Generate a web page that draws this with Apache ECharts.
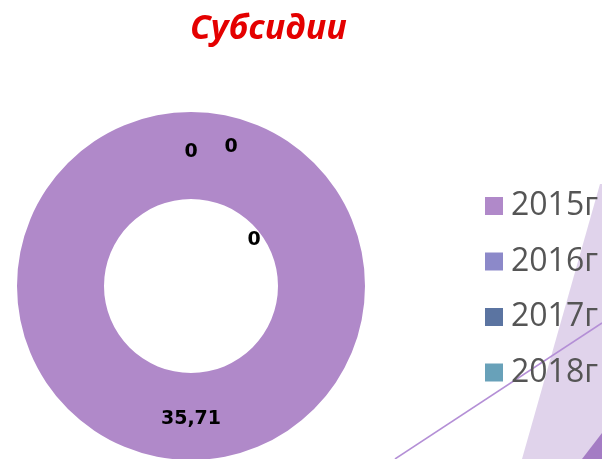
<!DOCTYPE html>
<html>
<head>
<meta charset="utf-8">
<script src="https://cdn.jsdelivr.net/npm/echarts@6/dist/echarts.min.js"></script>
<style>
  html, body { margin: 0; padding: 0; background: #fff; }
  #chart { width: 602px; height: 459px; }
</style>
</head>
<body>
<div id="chart"></div>
<script>
var years = ['2015г', '2016г', '2017г', '2018г'];
var values = [35.71, 0, 0, 0];
var colors = ['#B089C9', '#8C89C9', '#5B74A1', '#68A1B9'];
// label nudges for zero slices (they all sit at the start angle)
var labelOffsets = [[0, 0], [0, 0], [40, -5], [63, 88]];

var chart = echarts.init(document.getElementById('chart'));

var data = years.map(function (y, i) {
  return {
    name: y,
    value: values[i],
    label: { offset: labelOffsets[i] }
  };
});

chart.setOption({
  animation: false,
  title: {
    text: 'Субсидии',
    left: 185,
    top: 7,
    textStyle: {
      color: '#E40000',
      fontFamily: 'Open Sans',
      fontStyle: 'italic',
      fontWeight: 'bold',
      fontSize: 34
    }
  },
  legend: {
    orient: 'vertical',
    left: 480,
    top: 183,
    icon: 'rect',
    itemWidth: 18,
    itemHeight: 18,
    itemGap: 19.5,
    data: years,
    textStyle: {
      color: '#555555',
      fontFamily: 'Open Sans',
      fontSize: 32,
      lineHeight: 36,
      padding: [0, 0, 0, 3]
    }
  },
  graphic: [
    {
      type: 'polygon',
      z: 0,
      shape: { points: [[600, 184], [602, 184], [602, 459], [522, 459]] },
      style: { fill: '#E0D3EB' }
    },
    {
      type: 'polygon',
      z: 0,
      shape: { points: [[582, 459], [602, 433], [602, 459]] },
      style: { fill: '#A47CC4' }
    },
    {
      type: 'line',
      z: 0,
      shape: { x1: 395, y1: 459, x2: 602, y2: 323 },
      style: { stroke: '#B48FD6', lineWidth: 1.5 }
    }
  ],
  series: [
    {
      type: 'pie',
      center: [191, 286],
      radius: [87, 174],
      startAngle: 90,
      clockwise: true,
      color: colors,
      avoidLabelOverlap: false,
      label: {
        show: true,
        position: 'inside',
        color: '#000',
        fontFamily: 'DejaVu Sans',
        fontWeight: 'bold',
        fontSize: 19,
        formatter: function (p) {
          return String(p.value).replace('.', ',');
        }
      },
      labelLine: { show: false },
      emphasis: { disabled: true },
      data: data
    }
  ]
});
</script>
</body>
</html>
